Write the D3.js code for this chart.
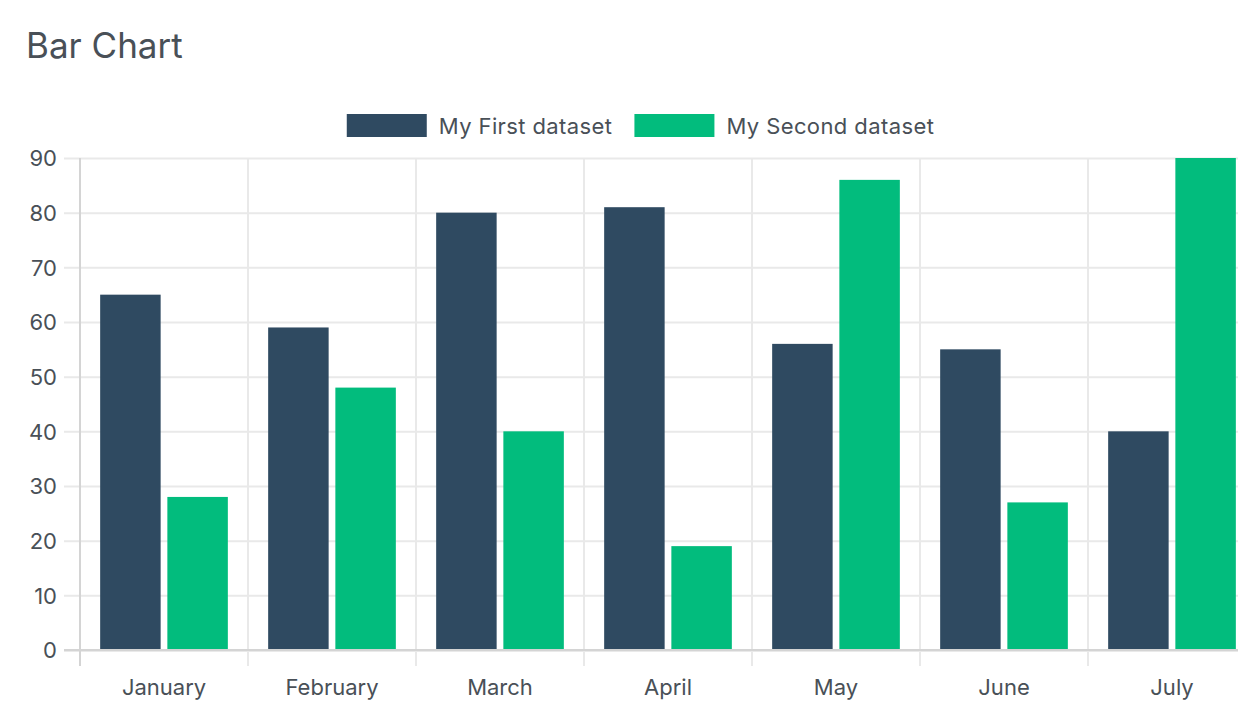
<!DOCTYPE html>
<html>
<head>
<meta charset="utf-8">
<script src="https://cdn.jsdelivr.net/npm/d3@7"></script>
<style>
    html, body { margin: 0; padding: 0; background: #fff; overflow: hidden; }
    text { font-family: Inter, 'Liberation Sans', sans-serif; fill: #495057; }
</style>
</head>
<body>
<div id="chartContainer"></div>
<script>
const months = ['January', 'February', 'March', 'April', 'May', 'June', 'July'];
const firstValues = [65, 59, 80, 81, 56, 55, 40];
const secondValues = [28, 48, 40, 19, 86, 27, 90];
const seriesNames = ['My First dataset', 'My Second dataset'];
const seriesColors = ['#2f4a61', '#02bc7d'];
const yTicks = [0, 10, 20, 30, 40, 50, 60, 70, 80, 90];

const svgWidth = 1238;
const svgHeight = 716;
const plot = { left: 80, right: 1256, top: 158, bottom: 650 };

const svg = d3.select('#chartContainer').append('svg').attr('width', svgWidth).attr('height', svgHeight);

const xScale = d3.scaleBand().domain(months).range([plot.left, plot.right]).padding(0);
const bw = xScale.bandwidth();
const innerScale = d3
    .scaleBand()
    .domain([0, 1])
    .range([bw * 0.1, bw * 0.9])
    .paddingInner(0.1)
    .paddingOuter(0.05);
const yScale = d3.scaleLinear().domain([0, 90]).range([plot.bottom, plot.top]);

// title
svg.append('text')
    .attr('x', 26)
    .attr('y', 58)
    .style('font-size', '35px')
    .text('Bar Chart');

// horizontal grid + y ticks
const yAxis = d3.axisLeft(yScale).tickValues(yTicks).tickSize(plot.right - plot.left + 16).tickPadding(7);
svg.append('g')
    .attr('class', 'y-axis')
    .attr('transform', `translate(${plot.right}, 0)`)
    .call(yAxis)
    .call((g) => g.select('.domain').remove())
    .call((g) => g.selectAll('line').attr('stroke', (d) => (d === 0 ? '#d4d4d4' : '#e9e9e9')).attr('stroke-width', 2))
    .call((g) => g.selectAll('text').style('font-size', '22px').attr('fill', '#495057').attr('dy', '0.36em'));

// vertical grid at category boundaries
const bounds = months.map((m) => xScale(m)).concat([plot.right]);
svg.append('g')
    .selectAll('line')
    .data(bounds)
    .enter()
    .append('line')
    .attr('x1', (d) => d)
    .attr('x2', (d) => d)
    .attr('y1', plot.top)
    .attr('y2', plot.bottom + 16)
    .attr('stroke', (d, i) => (i === 0 ? '#d4d4d4' : '#e9e9e9'))
    .attr('stroke-width', 2);

// bars
const rows = months.map((m, i) => ({ month: m, values: [firstValues[i], secondValues[i]] }));
const groups = svg
    .append('g')
    .selectAll('g')
    .data(rows)
    .enter()
    .append('g')
    .attr('transform', (d) => `translate(${xScale(d.month)}, 0)`);

groups
    .selectAll('rect')
    .data((d) => d.values.map((v, k) => ({ k, v })))
    .enter()
    .append('rect')
    .attr('x', (d) => innerScale(d.k))
    .attr('y', (d) => yScale(d.v))
    .attr('width', innerScale.bandwidth())
    .attr('height', (d) => yScale(0) - yScale(d.v))
    .attr('fill', (d) => seriesColors[d.k]);

// redraw baseline on top of bars
svg.append('line')
    .attr('x1', plot.left - 16)
    .attr('x2', plot.right)
    .attr('y1', plot.bottom)
    .attr('y2', plot.bottom)
    .attr('stroke', '#d4d4d4')
    .attr('stroke-width', 2);

// x labels
const xAxis = d3.axisBottom(xScale).tickSize(0).tickPadding(0);
svg.append('g')
    .attr('class', 'x-axis')
    .attr('transform', `translate(0, ${plot.bottom})`)
    .call(xAxis)
    .call((g) => g.select('.domain').remove())
    .call((g) => g.selectAll('text').style('font-size', '22px').attr('fill', '#495057').attr('dy', null).attr('y', 45));

// legend
const legend = svg.append('g').attr('class', 'legend');
const items = legend
    .selectAll('g')
    .data(seriesNames)
    .enter()
    .append('g');
items.append('rect').attr('width', 80).attr('height', 23).attr('y', 114).attr('fill', (d, i) => seriesColors[i]);
items.append('text')
    .attr('x', 92)
    .attr('y', 134)
    .style('font-size', '22px')
    .style('letter-spacing', '0.4px')
    .text((d) => d);

let widths = [];
items.each(function () {
    widths.push(92 + this.querySelector('text').getComputedTextLength());
});
const gap = 22;
const total = d3.sum(widths) + gap * (widths.length - 1);
let cursor = 640.5 - total / 2;
items.attr('transform', (d, i) => {
    const x = cursor;
    cursor += widths[i] + gap;
    return `translate(${x}, 0)`;
});
</script>
</body>
</html>
